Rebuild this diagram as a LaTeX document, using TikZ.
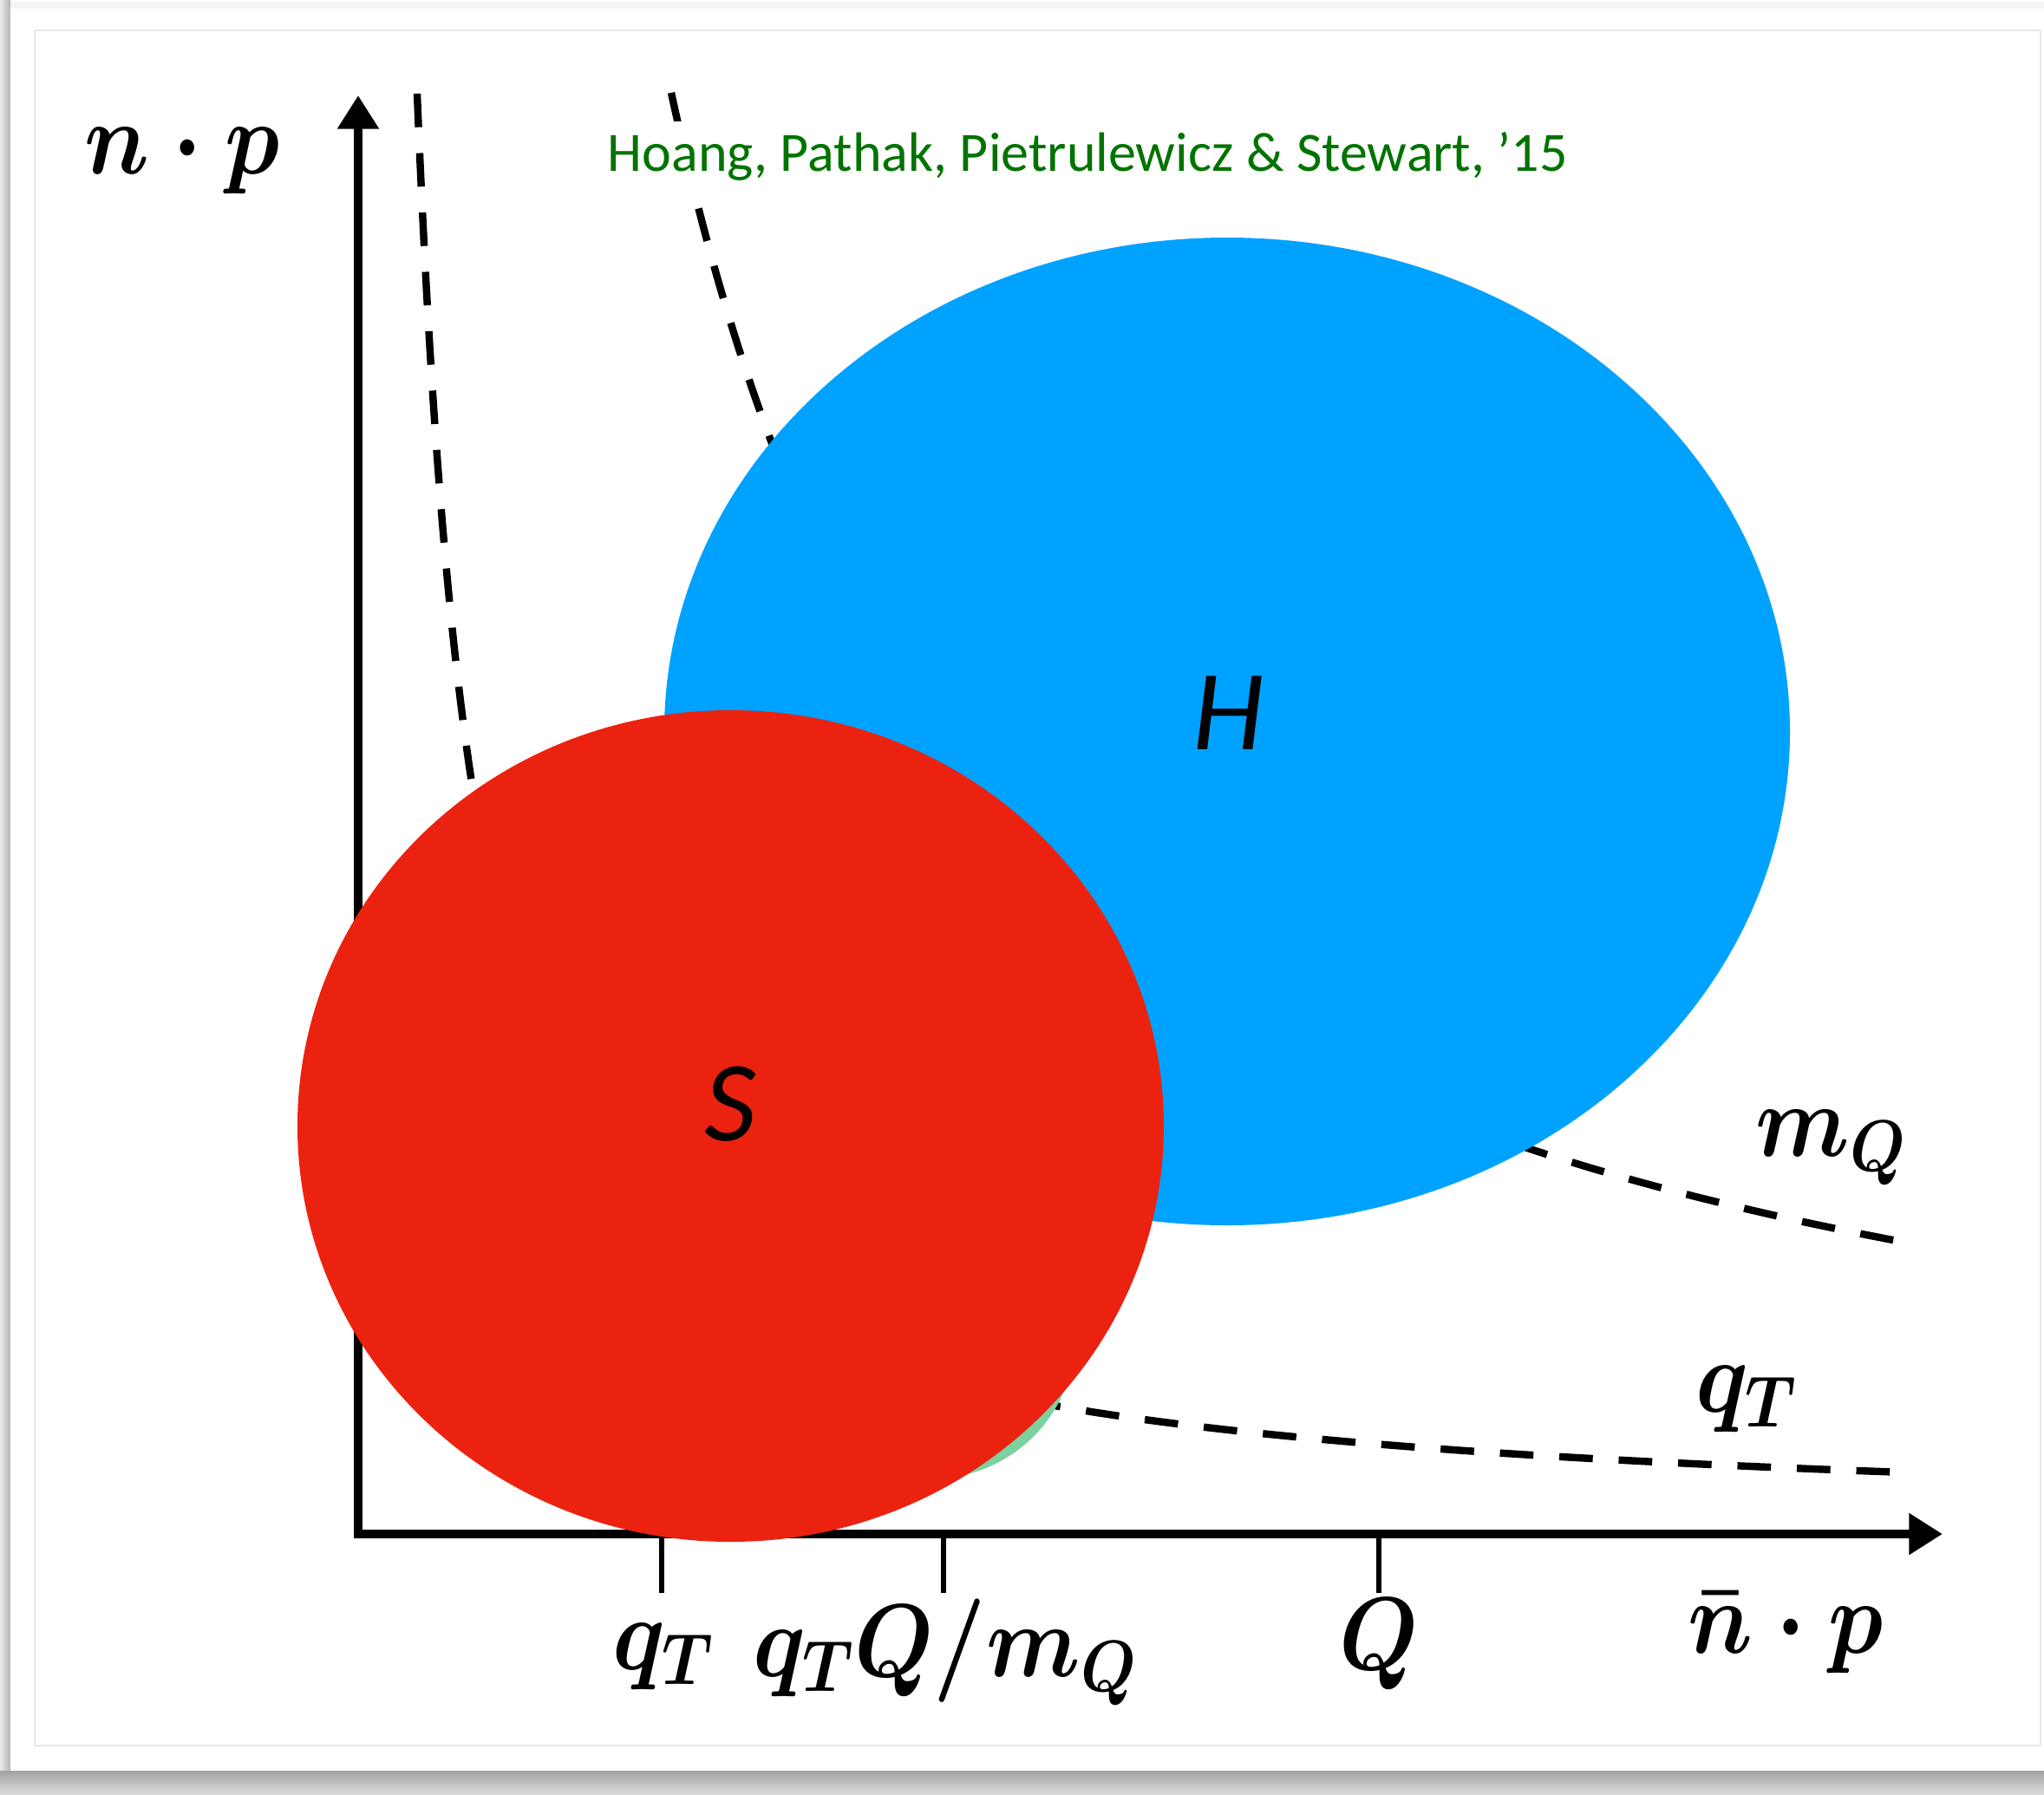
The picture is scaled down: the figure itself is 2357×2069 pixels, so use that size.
\RequirePackage{fix-cm}
\documentclass[tikz,border=0pt]{standalone}
\usepackage{amsmath,amssymb}
\usepackage[no-math]{fontspec}
\newfontfamily\calib{Carlito}
\usetikzlibrary{arrows.meta}

\definecolor{hardblue}{RGB}{0,162,255}
\definecolor{softred}{RGB}{236,34,16}
\definecolor{collgreen}{RGB}{125,208,160}
\definecolor{citegreen}{RGB}{0,115,0}
\newcommand\axlab[1]{\scalebox{0.88}[1]{$#1$}}

\begin{document}
\begin{tikzpicture}[x=0.01cm, y=-0.01cm,
  axisline/.style={line width=3pt, arrows={Triangle[length=11pt,width=13pt]-Triangle[length=11pt,width=13pt]}},
  tickmark/.style={line width=1.8pt},
  scaleline/.style={line width=2.4pt, dash pattern=on 11pt off 8.5pt},
  mlabel/.style={inner sep=0pt, anchor=base, font=\fontsize{34}{40}\selectfont\boldmath},
  modelabel/.style={inner sep=0pt, font=\calib\itshape\fontsize{37.5}{40}\selectfont}]
  \useasboundingbox (0,0) rectangle (2357,2069);
  % slide frame and shadow
  \shade[left color=black!8, right color=black!30] (0,0) rectangle (12,2042);
  \shade[top color=black!36, bottom color=black!14] (0,2042) rectangle (2357,2069);
  \fill[black!4] (12,2) rectangle (2357,10);
  \fill[white] (12,10) rectangle (2357,2042);
  \draw[black!9, line width=0.6pt] (40,35) rectangle (2353,2013);

  % axes
  \coordinate (origin) at (413,1769);
  \coordinate (ytip) at (413,110);
  \coordinate (xtip) at (2240,1769);
  \draw[axisline] (ytip) |- (xtip);
  \foreach \x/\nm in {763/qt,1088/qtq,1590/bigq} {
    \coordinate (tick-\nm) at (\x,1769);
    \draw[tickmark] (tick-\nm) -- ++(0,68);
  }

  % scale lines
  \draw[scaleline] plot[variable=\t, domain=4.2195:7.4833, samples=120]
    ({413+exp(\t)}, {1761-1124*(100/exp(\t))});
  \draw[scaleline] plot[variable=\t, domain=5.8889:7.4916, samples=120]
    ({413+exp(\t)}, {1769-6000*(100/exp(\t))});

  % modes
  \fill[collgreen] (1075,1540) circle [radius=165];
  \fill[hardblue] (1415,843.5) ellipse [x radius=649, y radius=569.5];
  \fill[softred] (842.5,1298.5) ellipse [x radius=499.5, y radius=479.5];

  % labels
  \node[modelabel] (hlab) at (1417,822) {H};
  \node[modelabel] (slab) at (842,1273) {S};
  \node[mlabel] (yname) at (210,200) {\axlab{n\cdot p}};
  \node[mlabel] (xname) at (2059,1906) {\axlab{\bar{n}\cdot p}};
  \node[mlabel] (mqline) at (2112,1333) {\axlab{m_Q}};
  \node[mlabel] (qtline) at (2014,1628) {\axlab{q_T}};
  \node[mlabel] (qtlab) at (765,1925) {\axlab{q_T}};
  \node[mlabel] (qtqlab) at (1090,1933) {\axlab{q_TQ/m_Q}};
  \node[mlabel] (bigqlab) at (1590,1925) {\axlab{Q}};
  \node[inner xsep=2pt, inner ysep=3.5pt, fill=white, anchor=base west, text=citegreen,
    font=\calib\fontsize{18.2}{20}\selectfont]
    (cite) at (693,197) {Hoang, Pathak, Pietrulewicz \& Stewart, ’15};
\end{tikzpicture}
\end{document}
